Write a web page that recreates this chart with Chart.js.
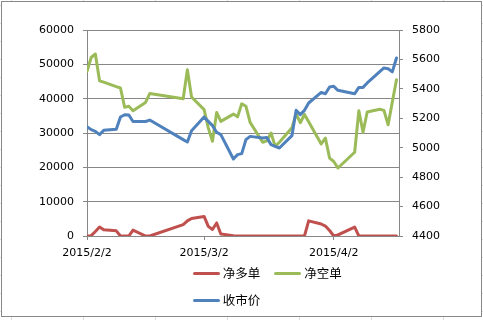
<!DOCTYPE html>
<html><head><meta charset="utf-8">
<script src="https://cdn.jsdelivr.net/npm/chart.js@4.4.0/dist/chart.umd.min.js"></script>
<style>
html,body{margin:0;padding:0;}
body{width:483px;height:320px;position:relative;overflow:hidden;background-color:#fff;
 background-image:
  repeating-linear-gradient(90deg, transparent 0 11px, #dcdcdc 11px 12px, transparent 12px 72px),
  repeating-linear-gradient(180deg, transparent 0 5px, #dcdcdc 5px 6px, transparent 6px 18px);}
#frame{position:absolute;left:1px;top:1px;width:479px;height:314px;border:1px solid #888;background:#fff;}
#c{position:absolute;left:0;top:0;}
.lgline{position:absolute;height:3px;width:27px;border-radius:1.5px;}
.lgtext{position:absolute;font-family:"Noto Sans CJK SC","Noto Sans",sans-serif;font-size:12.5px;line-height:16px;color:#000;white-space:nowrap;}
</style></head>
<body>
<div id="frame"></div>
<canvas id="c" width="483" height="320"></canvas>
<div id="legend"></div>
<script>
const dates = ['2015/2/2','2015/2/3','2015/2/4','2015/2/5','2015/2/6','2015/2/9','2015/2/10','2015/2/11','2015/2/12','2015/2/13','2015/2/16','2015/2/17','2015/2/25','2015/2/26','2015/2/27','2015/3/2','2015/3/3','2015/3/4','2015/3/5','2015/3/6','2015/3/9','2015/3/10','2015/3/11','2015/3/12','2015/3/13','2015/3/16','2015/3/17','2015/3/18','2015/3/19','2015/3/20','2015/3/23','2015/3/24','2015/3/25','2015/3/26','2015/3/27','2015/3/30','2015/3/31','2015/4/1','2015/4/2','2015/4/3','2015/4/7','2015/4/8','2015/4/9','2015/4/10','2015/4/13','2015/4/14','2015/4/15','2015/4/16','2015/4/17'];
const netLong = [0,100,1300,2600,1800,1500,0,0,0,1700,0,0,3300,4400,5100,5700,2800,1900,3800,600,100,0,0,0,0,0,0,0,0,0,0,0,0,0,4400,3500,2900,1600,0,300,2600,0,0,0,0,0,0,0,0];
const netShort = [48000,52000,53000,45200,44800,43500,43100,37500,37800,36500,38900,41500,40000,48400,40500,36800,31500,27600,36000,33400,35500,34700,38500,37800,33100,27300,27700,30000,26100,27300,31500,35600,33000,35400,33300,26800,28500,22700,21700,19800,24400,36500,30200,36100,36900,36600,32400,39000,45500];
const closePrice = [5143,5123,5111,5089,5118,5125,5209,5224,5222,5178,5178,5188,5055,5039,5116,5209,5179,5150,5105,5089,4923,4953,4960,5055,5077,5066,5070,5021,5009,4998,5082,5254,5225,5254,5304,5376,5367,5413,5417,5390,5367,5410,5410,5440,5517,5542,5537,5515,5610];
const seriesNames = ['净多单','净空单','收市价'];
const seriesColors = ['#C0504D','#9BBB59','#4F81BD'];
const xTickLabels = ['2015/2/2','2015/3/2','2015/4/2'];
const leftTicks = [0,10000,20000,30000,40000,50000,60000];
const rightTicks = [4400,4600,4800,5000,5200,5400,5600,5800];

const base = Date.UTC(2015,1,2);
function dayOf(s){const p=s.split('/').map(Number);return (Date.UTC(p[0],p[1]-1,p[2])-base)/86400000;}
function labelOf(v){const d=new Date(base+v*86400000);return d.getUTCFullYear()+'/'+(d.getUTCMonth()+1)+'/'+d.getUTCDate();}
const xs = dates.map(dayOf);
const pts = arr => arr.map((v,i)=>({x:xs[i],y:v}));

const tickFont = {family:'"DejaVu Sans", sans-serif', size:11};
const gridCol = '#878787';

const chart = new Chart(document.getElementById('c'), {
  type:'line',
  data:{datasets:[
    {label:seriesNames[0], data:pts(netLong), borderColor:seriesColors[0], backgroundColor:seriesColors[0], yAxisID:'y', order:3},
    {label:seriesNames[1], data:pts(netShort), borderColor:seriesColors[1], backgroundColor:seriesColors[1], yAxisID:'y', order:2},
    {label:seriesNames[2], data:pts(closePrice), borderColor:seriesColors[2], backgroundColor:seriesColors[2], yAxisID:'y1', order:1}
  ]},
  options:{
    responsive:false, animation:false, devicePixelRatio:1,
    elements:{line:{borderWidth:3, tension:0, borderJoinStyle:'round', borderCapStyle:'round', fill:false}, point:{radius:0, hoverRadius:0}},
    layout:{padding:{top:30,left:0,right:0,bottom:0}},
    plugins:{legend:{display:false}, tooltip:{enabled:false}},
    scales:{
      x:{type:'linear', min:0, max:74.6,
        afterBuildTicks:s=>{s.ticks = xTickLabels.map(l=>({value:dayOf(l)}));},
        afterFit:s=>{s.height=84;},
        ticks:{autoSkip:false, maxRotation:0, padding:7, font:tickFont, color:'#000', callback:v=>labelOf(v)},
        grid:{drawOnChartArea:false, drawTicks:true, tickLength:4, color:gridCol},
        border:{color:gridCol}},
      y:{position:'left', min:0, max:60000,
        afterBuildTicks:s=>{s.ticks = leftTicks.map(v=>({value:v}));},
        afterFit:s=>{s.width=87;},
        ticks:{padding:9, font:tickFont, color:'#000', callback:v=>String(v)},
        grid:{color:gridCol, tickLength:4},
        border:{color:gridCol}},
      y1:{position:'right', min:4400, max:5800,
        afterBuildTicks:s=>{s.ticks = rightTicks.map(v=>({value:v}));},
        afterFit:s=>{s.width=84;},
        ticks:{padding:9, font:tickFont, color:'#000', callback:v=>String(v)},
        grid:{drawOnChartArea:false, tickLength:4, color:gridCol},
        border:{color:gridCol}}
    }
  }
});

// HTML legend built from the datasets
const slots = [[192.7,273],[274.3,273],[192.7,300]];
const lg = document.getElementById('legend');
chart.data.datasets.forEach((ds,i)=>{
  const [lx,cy] = slots[i];
  const ln = document.createElement('div');
  ln.className='lgline'; ln.style.left=lx+'px'; ln.style.top=(cy-1.5)+'px'; ln.style.background=ds.borderColor;
  const tx = document.createElement('div');
  tx.className='lgtext'; tx.style.left=(lx+30)+'px'; tx.style.top=(cy-8)+'px'; tx.textContent=ds.label;
  lg.appendChild(ln); lg.appendChild(tx);
});
</script>
</body></html>
